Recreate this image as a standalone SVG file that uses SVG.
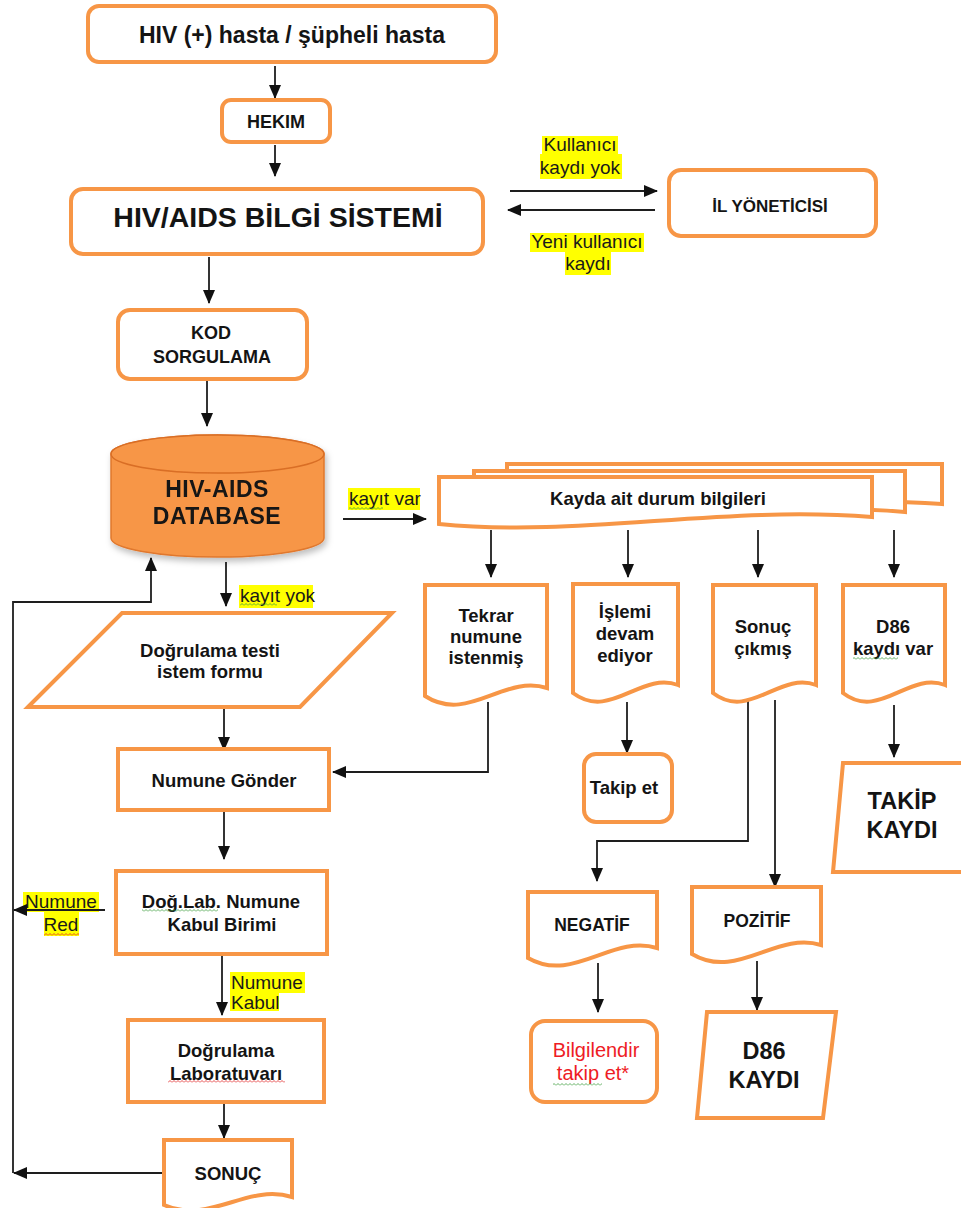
<svg xmlns="http://www.w3.org/2000/svg" width="961" height="1208" viewBox="0 0 961 1208">
<defs>
<style>
.n{fill:#fff;stroke:#F79646;stroke-width:4}
.t{font-family:"Liberation Sans",Arial,sans-serif;font-weight:bold;fill:#141414;text-anchor:middle}
.l{font-family:"Liberation Sans",Arial,sans-serif;font-size:19px;fill:#1a1a1a}
.hl{fill:#FFFF00}
.ca{fill:none;stroke:#1e1e1e;stroke-width:1.8;marker-end:url(#ah)}
.sqg{fill:url(#wg)}
.sqr{fill:url(#wr)}
</style>
<marker id="ah" markerWidth="14" markerHeight="12" refX="13" refY="6" orient="auto" markerUnits="userSpaceOnUse"><path d="M0,0 L14,6 L0,12 z" fill="#111"/></marker>
<pattern id="wg" patternUnits="userSpaceOnUse" width="4" height="3"><polyline points="0,2.5 2,0.5 4,2.5" fill="none" stroke="#3a9a3a" stroke-width="0.8"/></pattern>
<pattern id="wr" patternUnits="userSpaceOnUse" width="4" height="3"><polyline points="0,2.5 2,0.5 4,2.5" fill="none" stroke="#e02020" stroke-width="0.8"/></pattern>
<filter id="sh" x="-10%" y="-10%" width="130%" height="140%"><feDropShadow dx="2" dy="4" stdDeviation="3" flood-color="#000" flood-opacity="0.25"/></filter>
</defs>

<g id="labels">
<rect class="hl" x="542" y="136" width="76" height="18"/>
<rect class="hl" x="540" y="154" width="82" height="25"/>
<text class="l" x="580" y="151" text-anchor="middle">Kullanıcı</text>
<text class="l" x="580" y="174" text-anchor="middle">kaydı yok</text>
<rect class="hl" x="530" y="233" width="114" height="19"/>
<rect class="hl" x="565" y="252" width="46" height="23"/>
<text class="l" x="587" y="248" text-anchor="middle">Yeni kullanıcı</text>
<text class="l" x="588" y="270" text-anchor="middle">kaydı</text>
<rect class="hl" x="348" y="488" width="72" height="22"/>
<text class="l" x="349" y="505">kayıt var</text>
<rect class="sqg" x="349" y="507" width="34" height="3"/>
<rect class="hl" x="239" y="585" width="74" height="23"/>
<text class="l" x="240" y="602">kayıt yok</text>
<rect class="sqg" x="240" y="603" width="37" height="3"/>
<rect class="hl" x="23" y="892" width="76" height="20"/>
<rect class="hl" x="44" y="912" width="35" height="24"/>
<text class="l" x="61" y="908" text-anchor="middle">Numune</text>
<text class="l" x="61" y="931" text-anchor="middle">Red</text>
<rect class="sqr" x="44" y="933" width="35" height="3"/>
<rect class="hl" x="230" y="972" width="75" height="21"/>
<rect class="hl" x="230" y="993" width="49" height="18"/>
<text class="l" x="231" y="989">Numune</text>
<text class="l" x="231" y="1009">Kabul</text>
</g>

<g id="connectors">
<path class="ca" d="M275,66 V98"/>
<path class="ca" d="M275,145 V176"/>
<path class="ca" d="M510,191 H657"/>
<path class="ca" d="M655,210 H508"/>
<path class="ca" d="M209,257 V303"/>
<path class="ca" d="M207,381 V426"/>
<path class="ca" d="M343,519 H426"/>
<path class="ca" d="M226,562 V606"/>
<path class="ca" d="M13,1173 V602 H151 V558"/>
<path class="ca" d="M224,708 V750"/>
<path class="ca" d="M488,702 V772 H333"/>
<path class="ca" d="M224,812 V859"/>
<path class="ca" d="M105,910 H14"/>
<path class="ca" d="M222,956 V1015"/>
<path class="ca" d="M224,1104 V1138"/>
<path class="ca" d="M163,1173 H14"/>
<path class="ca" d="M491,530 V577"/>
<path class="ca" d="M628,530 V577"/>
<path class="ca" d="M758,530 V577"/>
<path class="ca" d="M894,530 V577"/>
<path class="ca" d="M627,702 V753"/>
<path class="ca" d="M748,700 V841 H597 V881"/>
<path class="ca" d="M775,700 V887"/>
<path class="ca" d="M894,705 V757"/>
<path class="ca" d="M598,963 V1012"/>
<path class="ca" d="M757,961 V1010"/>
</g>

<g id="n-hasta"><rect class="n" x="88" y="6" width="408" height="56" rx="11"/><text class="t" x="292" y="43" font-size="23">HIV (+) hasta / şüpheli hasta</text></g>
<g id="n-hekim"><rect class="n" x="222" y="100" width="108" height="42" rx="9"/><text class="t" x="276" y="128" font-size="18">HEKIM</text></g>
<g id="n-bilgi"><rect class="n" x="71" y="189" width="412" height="65" rx="12"/><text class="t" x="278" y="227" font-size="28.5">HIV/AIDS BİLGİ SİSTEMİ</text></g>
<g id="n-il"><rect class="n" x="669" y="170" width="207" height="66" rx="12"/><text class="t" x="770" y="212" font-size="17">İL YÖNETİCİSİ</text></g>
<g id="n-kod"><rect class="n" x="118" y="310" width="189" height="69" rx="12"/><text class="t" x="211" y="339" font-size="18">KOD</text><text class="t" x="212" y="363" font-size="18">SORGULAMA</text></g>

<g id="n-db" filter="url(#sh)">
<path d="M111,454 V538 A106.5,19 0 0 0 324,538 V454 A106.5,19 0 0 0 111,454 Z" fill="#F79646" stroke="#E0782E" stroke-width="1.5"/>
<ellipse cx="217.5" cy="454" rx="106.5" ry="19" fill="#F79646" stroke="#D96E25" stroke-width="1.5"/>
<text class="t" x="217" y="497" font-size="23" letter-spacing="0.5">HIV-AIDS</text>
<text class="t" x="217" y="524" font-size="23" letter-spacing="0.5">DATABASE</text>
</g>

<g id="n-kayda">
<path class="n" d="M507,464 H942 V504 C800,494 640,520 507,508 Z"/>
<path class="n" d="M474,471 H905 V512 C760,500 600,530 474,516 Z"/>
<path class="n" d="M439,477 H872 V517 C720,505 580,538 439,524 Z"/>
<text class="t" x="658" y="505" font-size="18.5">Kayda ait durum bilgileri</text>
</g>

<g id="n-form"><path class="n" d="M28,707 L122,613 L392,613 L300,707 Z"/><text class="t" x="210" y="657" font-size="18.5">Doğrulama testi</text><text class="t" x="210" y="678" font-size="18.5">istem formu</text></g>
<g id="n-gonder"><rect class="n" x="118" y="749" width="211" height="61"/><text class="t" x="224" y="787" font-size="18.5">Numune Gönder</text></g>
<g id="n-kabul"><rect class="n" x="116" y="871" width="211" height="83"/><text class="t" x="221" y="908" font-size="18.5">Doğ.Lab. Numune</text><text class="t" x="222" y="931" font-size="18.5">Kabul Birimi</text><rect class="sqg" x="142" y="909" width="76" height="3"/></g>
<g id="n-lab"><rect class="n" x="128" y="1020" width="196" height="82"/><text class="t" x="226" y="1057" font-size="18.5">Doğrulama</text><text class="t" x="226" y="1080" font-size="18.5">Laboratuvarı</text><rect class="sqr" x="168" y="1080" width="117" height="3"/></g>
<g id="n-sonuc"><path class="n" d="M164,1140 H292 V1197 C247,1183 210,1225 164,1205 Z"/><text class="t" x="228" y="1180" font-size="18.5">SONUÇ</text></g>

<g id="n-tekrar"><path class="n" d="M425,585 H547 V688 C504,674 468,724 425,696 Z"/><text class="t" x="486" y="622" font-size="18.5">Tekrar</text><text class="t" x="486" y="643" font-size="18.5">numune</text><text class="t" x="486" y="664" font-size="18.5">istenmiş</text></g>
<g id="n-islemi"><path class="n" d="M573,584 H678 V685 C641,671 610,721 573,693 Z"/><text class="t" x="625" y="618" font-size="18.5">İşlemi</text><text class="t" x="625" y="640" font-size="18.5">devam</text><text class="t" x="625" y="662" font-size="18.5">ediyor</text></g>
<g id="n-sonuccikmis"><path class="n" d="M713,585 H816 V685 C780,671 749,721 713,693 Z"/><text class="t" x="763" y="633" font-size="18.5">Sonuç</text><text class="t" x="763" y="655" font-size="18.5">çıkmış</text></g>
<g id="n-d86var"><path class="n" d="M843,585 H945 V685 C909,671 879,721 843,693 Z"/><text class="t" x="893" y="633" font-size="18.5">D86</text><text class="t" x="893" y="655" font-size="18.5">kaydı var</text><rect class="sqg" x="853" y="657" width="45" height="3"/></g>

<g id="n-takipet"><rect class="n" x="584" y="754" width="88" height="68" rx="12"/><text class="t" x="624" y="794" font-size="18.5">Takip et</text></g>
<g id="n-takipkaydi"><path class="n" d="M843,763 L975,763 L963,872 L833,872 Z"/><text class="t" x="902" y="809" font-size="23.5">TAKİP</text><text class="t" x="902" y="838" font-size="23.5">KAYDI</text></g>
<g id="n-negatif"><path class="n" d="M528,892 H657 V948 C612,934 573,984 528,958 Z"/><text class="t" x="592" y="931" font-size="17.5">NEGATİF</text></g>
<g id="n-pozitif"><path class="n" d="M692,887 H821 V945 C776,931 737,981 692,954 Z"/><text class="t" x="757" y="927" font-size="17.5">POZİTİF</text></g>
<g id="n-bilgilendir"><rect class="n" x="531" y="1021" width="126" height="81" rx="14"/><text x="596" y="1057" font-family="Liberation Sans, Arial, sans-serif" font-size="20" fill="#EE1C25" text-anchor="middle">Bilgilendir</text><text x="593" y="1080" font-family="Liberation Sans, Arial, sans-serif" font-size="20" fill="#EE1C25" text-anchor="middle">takip et*</text><rect class="sqg" x="553" y="1083" width="49" height="3"/></g>
<g id="n-d86kaydi"><path class="n" d="M707,1012 L836,1012 L823,1118 L697,1118 Z"/><text class="t" x="764" y="1059" font-size="23.5">D86</text><text class="t" x="764" y="1088" font-size="23.5">KAYDI</text></g>
</svg>
